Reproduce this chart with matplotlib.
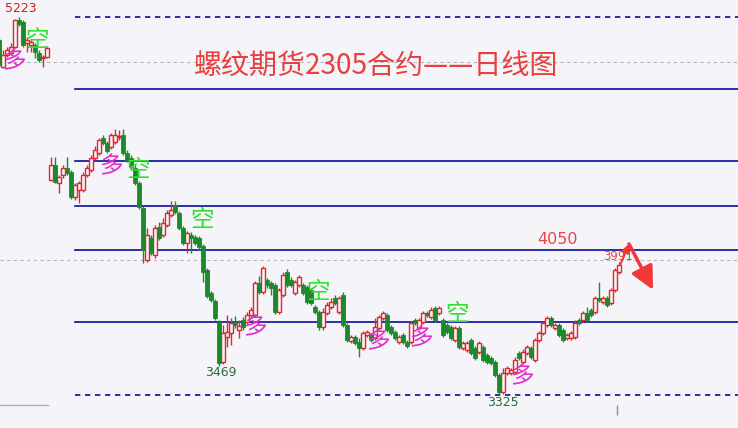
import matplotlib
matplotlib.use("Agg")
import matplotlib.pyplot as plt
import numpy as np

plt.rcParams['font.family'] = ['Noto Sans CJK SC', 'DejaVu Sans']

title = "螺纹期货2305合约——日线图"

# daily candles, oldest first (left block is the earlier contract segment)
opens = [5203, 5059, 5123, 5133, 5165, 5309, 5299, 5187, 5176, 5176, 5133, 5107, 5112,
         4456, 4536, 4440, 4483, 4520, 4499, 4365, 4403, 4403, 4483,
         4509, 4573, 4600, 4680, 4653, 4632, 4659, 4685, 4696, 4600,
         4573, 4520, 4440, 4307, 4029, 4147, 4056, 4205, 4163, 4216,
         4269, 4323, 4280, 4200, 4120, 4163, 4152, 4147, 4104, 3976,
         3853, 3811, 3699, 3485, 3619, 3640, 3699, 3656, 3709, 3699,
         3736, 3736, 3907, 3859, 3923, 3907, 3896, 3752, 3843, 3965,
         3923, 3853, 3896, 3896, 3885, 3869, 3779, 3752, 3672, 3747,
         3779, 3827, 3752, 3843, 3683, 3597, 3619, 3592, 3560, 3629,
         3629, 3613, 3667, 3720, 3736, 3672, 3645, 3592, 3629, 3592,
         3592, 3709, 3667, 3699, 3747, 3725, 3773, 3747, 3709, 3683,
         3672, 3603, 3667, 3560, 3549, 3603, 3560, 3539, 3565, 3523,
         3507, 3485, 3416, 3325, 3427, 3427, 3432, 3533, 3485, 3533,
         3560, 3496, 3603, 3640, 3683, 3720, 3667, 3683, 3656, 3613,
         3613, 3619, 3709, 3709, 3747, 3763, 3752, 3827, 3805, 3827,
         3800, 3869, 3965]
highs = [5213, 5149, 5165, 5187, 5315, 5325, 5309, 5219, 5203, 5187, 5149, 5123, 5171,
         4579, 4579, 4483, 4536, 4579, 4509, 4440, 4451, 4499, 4536,
         4589, 4637, 4680, 4696, 4664, 4707, 4728, 4723, 4728, 4616,
         4589, 4536, 4451, 4317, 4200, 4163, 4216, 4232, 4253, 4296,
         4344, 4344, 4291, 4211, 4184, 4179, 4163, 4157, 4115, 3987,
         3864, 3821, 3709, 3683, 3736, 3720, 3731, 3709, 3725, 3752,
         3779, 3917, 3944, 3997, 3933, 3917, 3907, 3880, 3965, 3981,
         3939, 3923, 3949, 3907, 3896, 3880, 3789, 3763, 3773, 3805,
         3827, 3843, 3837, 3859, 3693, 3629, 3629, 3613, 3651, 3656,
         3640, 3720, 3736, 3757, 3747, 3683, 3656, 3629, 3640, 3603,
         3704, 3720, 3720, 3757, 3757, 3779, 3784, 3784, 3720, 3693,
         3683, 3677, 3677, 3597, 3597, 3613, 3571, 3597, 3576, 3533,
         3517, 3496, 3427, 3453, 3464, 3453, 3512, 3544, 3555, 3576,
         3571, 3613, 3651, 3704, 3731, 3731, 3693, 3693, 3667, 3640,
         3651, 3709, 3720, 3757, 3779, 3773, 3837, 3912, 3837, 3837,
         3880, 3987, 4019]
lows = [5059, 5053, 5112, 5123, 5160, 5277, 5165, 5139, 5139, 5107, 5085, 5059, 5107,
        4451, 4440, 4387, 4467, 4483, 4355, 4349, 4333, 4392, 4472,
        4499, 4563, 4589, 4643, 4600, 4621, 4648, 4669, 4589, 4552,
        4509, 4429, 4301, 4013, 4019, 4056, 4040, 4136, 4152, 4205,
        4259, 4275, 4189, 4109, 4067, 4067, 4109, 4083, 3912, 3827,
        3805, 3709, 3464, 3475, 3565, 3576, 3667, 3613, 3656, 3688,
        3725, 3725, 3848, 3848, 3880, 3843, 3741, 3741, 3832, 3885,
        3885, 3843, 3885, 3843, 3795, 3789, 3741, 3656, 3656, 3736,
        3768, 3789, 3741, 3672, 3592, 3587, 3576, 3512, 3549, 3619,
        3592, 3603, 3656, 3709, 3645, 3629, 3603, 3581, 3581, 3560,
        3581, 3683, 3656, 3688, 3725, 3715, 3699, 3736, 3619, 3635,
        3603, 3592, 3555, 3549, 3539, 3523, 3496, 3528, 3485, 3475,
        3469, 3405, 3315, 3315, 3416, 3416, 3421, 3496, 3475, 3523,
        3501, 3485, 3592, 3629, 3672, 3672, 3656, 3619, 3592, 3603,
        3603, 3608, 3683, 3699, 3699, 3725, 3741, 3805, 3795, 3779,
        3789, 3859, 3955]
closes = [5069, 5123, 5149, 5165, 5309, 5288, 5176, 5203, 5192, 5139, 5096, 5112, 5160,
          4536, 4445, 4472, 4520, 4493, 4365, 4429, 4440, 4483, 4520,
          4573, 4616, 4669, 4653, 4611, 4696, 4696, 4691, 4600, 4563,
          4525, 4440, 4312, 4083, 4163, 4067, 4200, 4147, 4227, 4280,
          4296, 4285, 4200, 4120, 4173, 4147, 4120, 4099, 3965, 3837,
          3816, 3720, 3480, 3640, 3645, 3693, 3683, 3677, 3672, 3736,
          3763, 3907, 3859, 3987, 3896, 3880, 3752, 3869, 3949, 3896,
          3896, 3912, 3939, 3853, 3805, 3800, 3752, 3672, 3752, 3789,
          3805, 3800, 3827, 3683, 3603, 3619, 3587, 3560, 3640, 3645,
          3603, 3672, 3725, 3747, 3656, 3640, 3613, 3619, 3592, 3571,
          3693, 3693, 3709, 3747, 3736, 3763, 3709, 3773, 3629, 3645,
          3613, 3667, 3565, 3587, 3587, 3533, 3507, 3587, 3496, 3485,
          3480, 3416, 3325, 3427, 3453, 3443, 3496, 3507, 3539, 3565,
          3512, 3603, 3640, 3693, 3720, 3683, 3683, 3629, 3603, 3629,
          3640, 3693, 3693, 3747, 3709, 3736, 3827, 3816, 3827, 3789,
          3869, 3976, 4003]

# horizontal support / resistance lines
solid_levels = [4941, 4557, 4317, 4083, 3699]
dash_levels = [5325, 3309]
grey_levels = [5085, 4029]

# signal marks, pixel position of each glyph centre
long_marks = [(14, 62), (111, 167), (255, 328), (378, 342), (421, 339), (522, 377)]
short_marks = [(37, 40), (138, 170), (202, 221), (318, 293), (457, 314)]

bg = '#f4f4f9'
red = '#e3262b'
green = '#1b8a2a'
navy = '#0c0c9c'

W, H = 738, 428
fig = plt.figure(figsize=(W / 100, H / 100), dpi=100)
fig.patch.set_facecolor(bg)
ax = fig.add_axes([0, 0, 1, 1])
ax.set_facecolor(bg)

o = np.array(opens)
h = np.array(highs)
l = np.array(lows)
c = np.array(closes)
x = np.arange(len(o))
up = c > o

ax.vlines(x[up], l[up], h[up], color=red, lw=1, zorder=2)
ax.vlines(x[~up], l[~up], h[~up], color=green, lw=1, zorder=2)
body = np.where(np.abs(c - o) < 3, 3, c - o)
ax.bar(x[up], body[up], bottom=o[up], width=0.8, facecolor=bg, edgecolor=red, lw=1.0, zorder=3)
ax.bar(x[~up], body[~up], bottom=o[~up], width=0.8, facecolor=green, edgecolor=green, lw=0.6, zorder=3)

x0 = 75 / W
for lv in solid_levels:
    ax.axhline(lv, xmin=x0, xmax=1, color=navy, lw=1.2, zorder=1)
for lv in dash_levels:
    ax.axhline(lv, xmin=x0, xmax=1, color=navy, lw=1.2, ls=(0, (3.2, 2.8)), zorder=1)
for lv in grey_levels:
    ax.axhline(lv, color='#b4b4bc', lw=0.8, ls=(0, (3, 3)), zorder=1)
ax.axhline(3256, xmin=0, xmax=48 / W, color='#b0b0b0', lw=1)
ax.vlines(154.5, 3200, 3255, color='#909090', lw=1)

def fx(px):
    return px / W

def fy(py):
    return 1 - py / H

ax.text(fx(376), fy(67), title, transform=ax.transAxes, ha='center', va='center',
        color='#e8403f', fontsize=20.2)
ax.text(fx(21), fy(9), '5223', transform=ax.transAxes, ha='center', va='center',
        color='#cc2020', fontsize=9, family='DejaVu Sans')
ax.text(fx(221), fy(372), '3469', transform=ax.transAxes, ha='center', va='center',
        color='#2d6b3c', fontsize=9, family='DejaVu Sans')
ax.text(fx(503), fy(403), '3325', transform=ax.transAxes, ha='center', va='center',
        color='#2d6b3c', fontsize=9, family='DejaVu Sans')
ax.text(fx(558), fy(239), '4050', transform=ax.transAxes, ha='center', va='center',
        color='#e84646', fontsize=11.5, family='DejaVu Sans')
ax.text(fx(618), fy(256), '3991', transform=ax.transAxes, ha='center', va='center',
        color='#e84646', fontsize=8.5, family='DejaVu Sans', zorder=5)

for px, py in long_marks:
    ax.text(fx(px), fy(py), '多', transform=ax.transAxes, ha='center', va='center',
            color='#e22ec8', fontsize=17, zorder=6)
for px, py in short_marks:
    ax.text(fx(px), fy(py), '空', transform=ax.transAxes, ha='center', va='center',
            color='#2fe02f', fontsize=17, zorder=6)

# forecast arrows
ax.annotate('', xy=(157.5, 4115), xytext=(155.3, 4003),
            arrowprops=dict(arrowstyle='-|>,head_length=0.5,head_width=0.25', color='#f03838',
                            lw=1.5, shrinkA=0, shrinkB=0), zorder=6)
ax.annotate('', xy=(163.5, 3870), xytext=(157.5, 4115),
            arrowprops=dict(arrowstyle='-|>,head_length=1.0,head_width=0.5', color='#f03838',
                            lw=2.5, shrinkA=0, shrinkB=0, mutation_scale=14), zorder=6)

ax.set_xlim(0.25, 184.75)
ax.set_ylim(3133, 5416)
ax.set_xticks([])
ax.set_yticks([])
for s in ax.spines.values():
    s.set_visible(False)

fig.savefig('out.png', dpi=100, facecolor=bg)
